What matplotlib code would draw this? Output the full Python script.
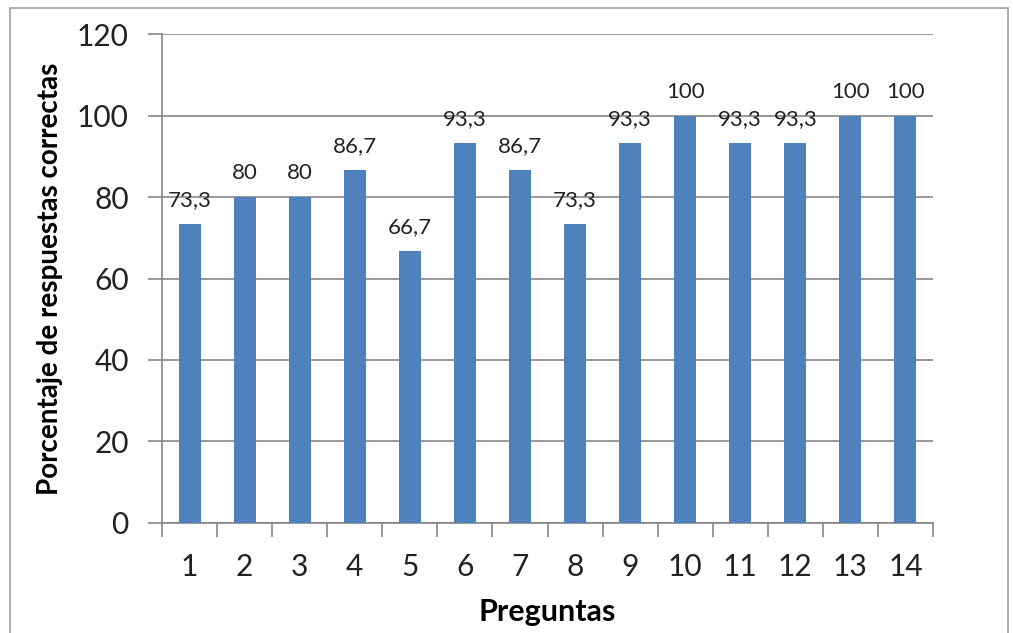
import matplotlib
matplotlib.use("Agg")
import matplotlib.pyplot as plt
from matplotlib.patches import Rectangle

# ==========================================
# DATA
# ==========================================

preguntas = ["1", "2", "3", "4", "5", "6", "7", "8", "9", "10", "11", "12", "13", "14"]
porcentajes = [73.3, 80, 80, 86.7, 66.7, 93.3, 86.7, 73.3, 93.3, 100, 93.3, 93.3, 100, 100]
etiquetas = ["73,3", "80", "80", "86,7", "66,7", "93,3", "86,7", "73,3",
             "93,3", "100", "93,3", "93,3", "100", "100"]
y_ticks = [0, 20, 40, 60, 80, 100, 120]

# ==========================================
# CHART
# ==========================================

plt.rcParams["font.family"] = ["Lato", "DejaVu Sans"]

fig = plt.figure(figsize=(10.13, 6.33), dpi=100)
ax = fig.add_axes([0.16, 0.174, 0.761, 0.772])

# outer chart frame
fig.patches.append(Rectangle((0.01, -0.05), 0.985, 1.037, transform=fig.transFigure,
                             fill=False, edgecolor="#a0a0a0", linewidth=1.2))

x = list(range(len(preguntas)))
ax.bar(x, porcentajes, width=0.4, color="#4F81BD", zorder=3)

for xi, val, lab in zip(x, porcentajes, etiquetas):
    ax.annotate(lab, (xi, val), xytext=(0, 10), textcoords="offset points",
                ha="center", va="bottom", fontsize=16, color="#222222")

ax.set_xlim(-0.5, len(preguntas) - 0.5)
ax.set_ylim(0, 120)
ax.set_yticks(y_ticks)
ax.set_yticklabels([str(t) for t in y_ticks], fontsize=21.5, color="#222222")
ax.set_xticks(x)
ax.set_xticklabels(preguntas, fontsize=21.5, color="#222222")
ax.set_xticks([i - 0.5 for i in range(len(preguntas) + 1)], minor=True)
ax.tick_params(axis="x", which="major", length=0, pad=22)
ax.tick_params(axis="x", which="minor", length=10, color="#868686", width=1.2)
ax.tick_params(axis="y", length=10, color="#868686", width=1.2, pad=14)

ax.grid(axis="y", color="#868686", linewidth=1.2, zorder=0)
for side in ["top", "right"]:
    ax.spines[side].set_visible(False)
for side in ["left", "bottom"]:
    ax.spines[side].set_color("#868686")
    ax.spines[side].set_linewidth(1.2)

ax.set_xlabel("Preguntas", fontsize=22, fontweight="bold", labelpad=12)
ax.set_ylabel("Porcentaje de respuestas correctas", fontsize=20, fontweight="bold", labelpad=10)

plt.savefig("out.png", dpi=100)
plt.close()
